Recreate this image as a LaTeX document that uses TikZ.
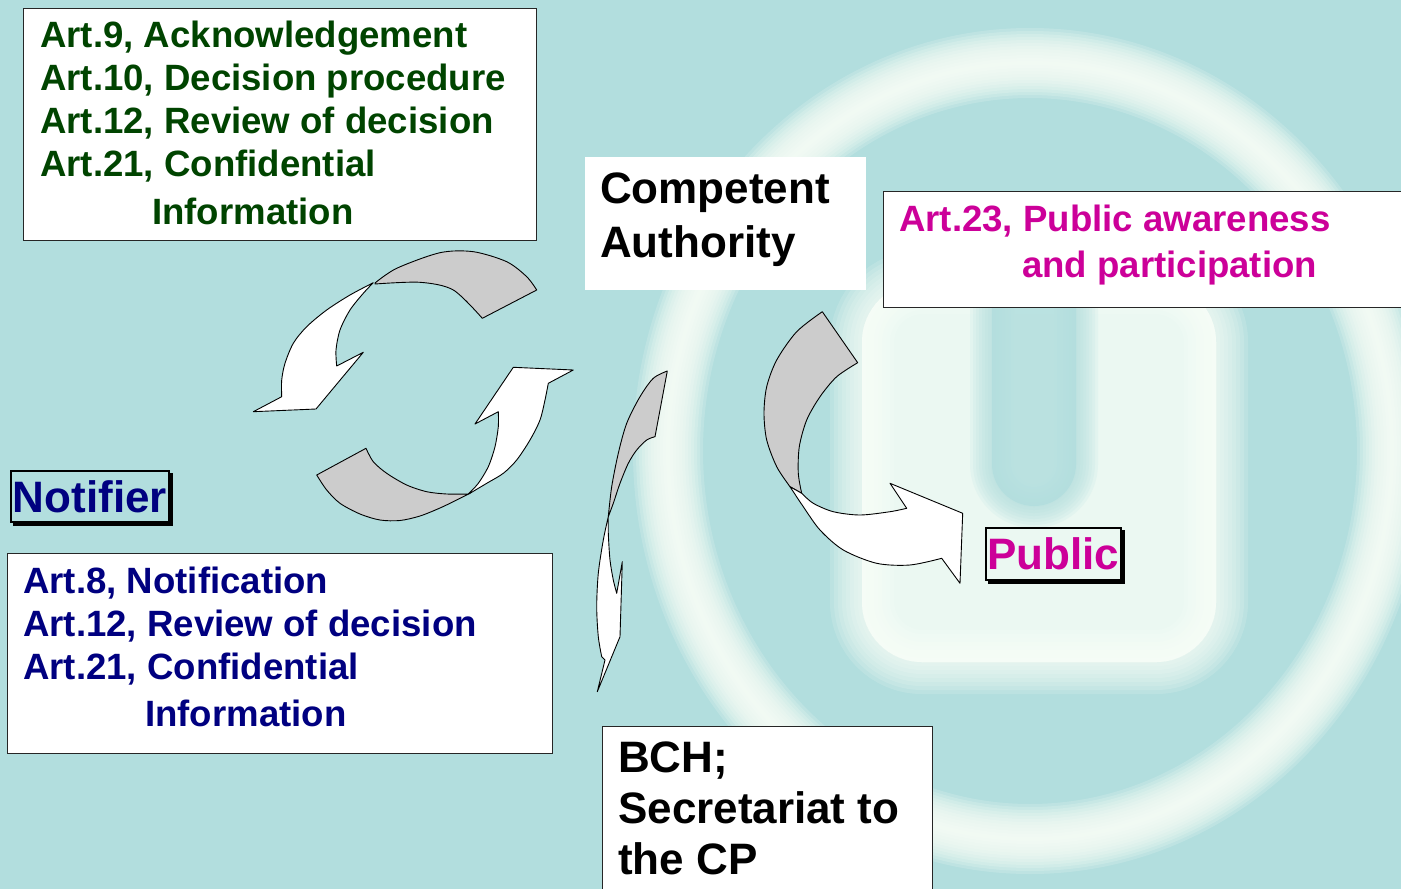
\documentclass[tikz,border=0pt]{standalone}
\usepackage{fontspec}
\setmainfont{Liberation Sans}
\definecolor{bgteal}{RGB}{178,222,222}
\definecolor{glow}{RGB}{250,255,248}
\definecolor{artgreen}{RGB}{0,68,0}
\definecolor{artnavy}{RGB}{0,0,128}
\definecolor{artmag}{RGB}{204,0,153}
\begin{document}
\begin{tikzpicture}[x=1pt,y=-1pt,
  box/.style={draw=black!85, line width=1.2pt, fill=white, inner sep=0pt, anchor=north west},
  txt/.style={inner sep=0pt, anchor=north west, align=left},
  small/.style={font=\fontsize{36.6pt}{43pt}\selectfont\bfseries},
  big/.style={font=\fontsize{44pt}{54pt}\selectfont\bfseries},
  tag/.style={draw=black, line width=1.8pt, inner sep=0pt, anchor=north west,
    font=\fontsize{44pt}{54pt}\selectfont\bfseries},
  back/.style={fill=black!20, draw=black, line width=0.9pt, line join=round},
  front/.style={fill=white, draw=black, line width=0.9pt, line join=round}]
\useasboundingbox (0,0) rectangle (1401,889);
\fill[bgteal] (0,0) rectangle (1401,889);

% watermark ring (soft edges)
\foreach \w in {70,64,...,4}
  \draw[glow, line width=\w pt, opacity=0.18] (1030,451) ellipse [x radius=362, y radius=388];
% watermark inner shape
\foreach \w in {64,56,...,0}
  \draw[glow, line width=\w pt, opacity=0.15, rounded corners=60pt] (862,282) rectangle (1216,662);
\fill[glow, opacity=0.8, rounded corners=60pt] (862,282) rectangle (1216,662);
\foreach \w in {44,38,...,2}
  \draw[bgteal, line width=\w pt, opacity=0.15, rounded corners=42pt] (992,220) rectangle (1076,506);
\fill[bgteal, opacity=0.85, rounded corners=42pt] (992,220) rectangle (1076,506);

% cycle arrow, upper part
\draw[back] (375,283) -- plot[smooth] coordinates {(375,283) (396.7,268.3) (440,252.7) (473.3,251.7) (506.7,261.7) (526.7,276.7) (536.7,290)}
  -- (482.3,318.3) -- plot[smooth] coordinates {(482.3,318.3) (453.3,290) (420,282.3) (375,284)} -- cycle;
\draw[front] (373.3,282.7) -- plot[smooth] coordinates {(373.3,282.7) (350,295) (326.7,310) (306.7,326.7) (293.3,343.3) (285,363.3) (281.7,380) (281.7,396.7)}
  -- (253.3,411.7) -- (316,409) -- (363.3,352.3) -- (336.7,366)
  -- plot[smooth] coordinates {(336.7,366) (336,350) (340,330) (350,310) (363.3,293.3) (373.3,282.7)} -- cycle;

% cycle arrow, lower part
\draw[back] (316.7,475) -- plot[smooth] coordinates {(316.7,475) (326.7,490) (340,503.3) (360,514) (380,520) (400,520.5) (420,516) (440,508) (456.7,500) (470,493.3)}
  -- (468.3,494) -- plot[smooth] coordinates {(468.3,494) (446.7,494) (426.7,491.7) (406.7,485) (386.7,473.3) (373.3,461.7) (366,448.3)} -- cycle;
\draw[front] (470,493.3) -- plot[smooth] coordinates {(470,493.3) (486.7,483.3) (503.3,473.3) (516.7,460) (530,440) (540,420) (545,400) (548.3,383.3)}
  -- (573.3,370) -- (513.3,367.3) -- (475,424) -- (498.3,411.7)
  -- plot[smooth] coordinates {(498.3,411.7) (498.3,426.7) (495,446.7) (488.3,466.7) (478.3,483.3) (468.3,494)} -- cycle;

% arrow Competent Authority -> BCH
\draw[back] (667.3,371) -- (655,436.7)
  -- plot[smooth] coordinates {(655,436.7) (646.7,440) (636.7,450) (628.3,463.3) (620,483.3) (613.3,503.3) (608.3,516.7)}
  -- plot[smooth] coordinates {(608.3,516.7) (611.7,486.7) (618.3,453.3) (626.7,423.3) (640,396.7) (653.3,378.3) (667.3,371)} -- cycle;
\draw[front] (608.3,516.7) -- plot[smooth] coordinates {(608.3,516.7) (603.3,540) (598.3,573.3) (596.7,606.7) (598.3,636.7) (601.7,656.7)}
  -- (605,660) -- (597.3,691.7) -- (620,636.7) -- (622.3,561.7) -- (616.7,593.3)
  -- plot[smooth] coordinates {(616.7,593.3) (613.3,580) (610,560) (608.3,533.3) (608.3,516.7)} -- cycle;

% arrow Competent Authority -> Public
\draw[back] (790,486.7) -- plot[smooth] coordinates {(790,486.7) (776.7,466.7) (766.7,440) (764,413.3) (766.7,386.7) (776.7,360) (796.7,331.7) (822.3,311.7)}
  -- (857.7,362.7) -- plot[smooth] coordinates {(857.7,362.7) (836.7,376.7) (820,396.7) (806.7,420) (799.3,446.7) (798.3,473.3) (801.7,493.3)} -- cycle;
\draw[front] (790,486.7) -- plot[smooth] coordinates {(790,486.7) (803.3,506.7) (820,530) (843.3,550) (876.7,563.3) (910,565) (941.7,558.3)}
  -- (960,583.3) -- (962.7,513.3) -- (890,483.3) -- (906.7,508.3)
  -- plot[smooth] coordinates {(906.7,508.3) (890,511.7) (860,515) (833.3,511.7) (813.3,503.3) (801.7,493.3)} -- cycle;

% boxes
\node[box, minimum width=513pt, minimum height=232pt] (cabox1) at (23,8) {};
\node[txt, small, text=artgreen] (catext1) at (40,21)
  {Art.9, Acknowledgement\\Art.10, Decision procedure\\Art.12, Review of decision\\Art.21, Confidential\\[5pt]\hspace*{112pt}Information};

\node[box, minimum width=545pt, minimum height=200pt] (notbox) at (7,553) {};
\node[txt, small, text=artnavy] (nottext) at (23,567)
  {Art.8, Notification\\Art.12, Review of decision\\Art.21, Confidential\\[4pt]\hspace*{122pt}Information};

\node[fill=white, inner sep=0pt, anchor=north west, minimum width=281pt, minimum height=133pt] (cabox) at (585,157) {};
\node[txt, big, text=black] (catext) at (600,173) {Competent\\Authority};

\node[box, minimum width=530pt, minimum height=116pt] (pubbox) at (883,191) {};
\node[txt, small, text=artmag, font=\fontsize{36.6pt}{46pt}\selectfont\bfseries] (pubtext) at (899,205)
  {Art.23, Public awareness\\\hspace*{123pt}and participation};

\node[box, minimum width=330pt, minimum height=180pt] (bchbox) at (602,726) {};
\node[txt, text=black, font=\fontsize{44pt}{51pt}\selectfont\bfseries] (bchtext) at (618,742)
  {BCH;\\Secretariat to\\the CP};

% tags
\node[tag, text=artnavy, minimum width=158pt, minimum height=51pt] (notifier) at (10,470) {Notifier};
\fill[black] ([yshift=-3pt]notifier.north east) rectangle ([xshift=3pt]notifier.south east);
\fill[black] ([xshift=3pt]notifier.south west) rectangle ([xshift=3pt,yshift=-3pt]notifier.south east);

\node[tag, text=artmag, minimum width=135pt, minimum height=52pt] (public) at (985,527) {Public};
\fill[black] ([yshift=-3pt]public.north east) rectangle ([xshift=3pt]public.south east);
\fill[black] ([xshift=3pt]public.south west) rectangle ([xshift=3pt,yshift=-3pt]public.south east);
\end{tikzpicture}
\end{document}
